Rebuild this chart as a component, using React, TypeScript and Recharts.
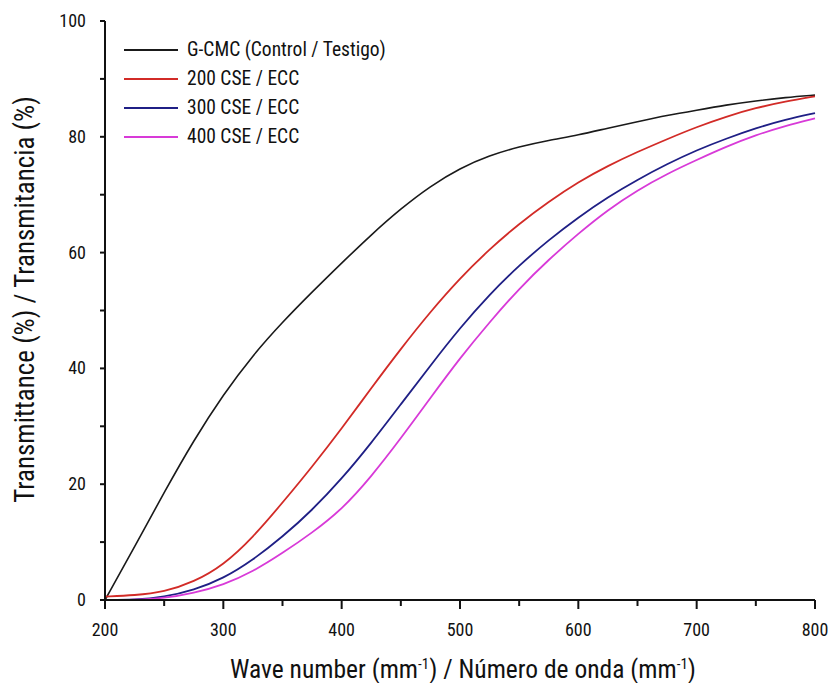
import React from 'react';
import { LineChart, Line, XAxis, YAxis } from 'recharts';

const FONT = "'Liberation Sans Narrow', 'Roboto Condensed', 'Liberation Sans', Arial, sans-serif";

const waveNumbers = [200, 225, 250, 275, 300, 325, 350, 375, 400, 425, 450, 475, 500, 525, 550, 575, 600, 625, 650, 675, 700, 725, 750, 775, 800];

const controlValues = [0, 9.2, 18.6, 27.6, 35.5, 42.3, 48, 53.2, 58.2, 63.1, 67.6, 71.5, 74.6, 76.8, 78.3, 79.4, 80.3, 81.5, 82.6, 83.7, 84.6, 85.5, 86.2, 86.8, 87.2];
const cse200Values = [0.6, 0.8, 1.4, 3.1, 6, 10.8, 16.8, 23, 29.6, 36.6, 43.4, 49.8, 55.6, 60.6, 65, 68.8, 72.2, 75, 77.4, 79.6, 81.7, 83.5, 85, 86.1, 87];
const cse300Values = [0, 0, 0.5, 1.7, 3.7, 6.9, 10.9, 15.5, 20.9, 27.1, 33.8, 40.5, 47, 52.8, 57.8, 62.2, 66.1, 69.6, 72.6, 75.3, 77.7, 79.7, 81.5, 83, 84.1];
const cse400Values = [0, 0, 0.3, 1.2, 2.6, 4.9, 8.1, 11.6, 15.6, 21.3, 27.9, 34.9, 41.8, 48, 53.8, 58.8, 63.3, 67.4, 70.8, 73.6, 76, 78.3, 80.3, 81.9, 83.2];

const xTicks = [200, 250, 300, 350, 400, 450, 500, 550, 600, 650, 700, 750, 800];
const yTicks = [0, 10, 20, 30, 40, 50, 60, 70, 80, 90, 100];

const series = [
    { key: 'control', name: 'G-CMC (Control / Testigo)', color: '#1a1a1a', width: 1.6 },
    { key: 'cse200', name: '200 CSE / ECC', color: '#d22b27', width: 1.8 },
    { key: 'cse300', name: '300 CSE / ECC', color: '#1f1f85', width: 1.8 },
    { key: 'cse400', name: '400 CSE / ECC', color: '#d83ad8', width: 1.8 },
];

const data = waveNumbers.map((w, i) => ({
    wave: w,
    control: controlValues[i],
    cse200: cse200Values[i],
    cse300: cse300Values[i],
    cse400: cse400Values[i],
}));

const XTick = (props: any) => {
    const { x, y, payload } = props;
    const major = payload.value % 100 === 0;
    return (
        <g>
            <line x1={x} y1={y} x2={x} y2={y + (major ? 9 : 6)} stroke="#111" strokeWidth={2} />
            {major && (
                <text x={x} y={y + 36} textAnchor="middle" fontSize={18} fontFamily={FONT} fill="#111">
                    {payload.value}
                </text>
            )}
        </g>
    );
};

const YTick = (props: any) => {
    const { x, y, payload } = props;
    const major = payload.value % 20 === 0;
    return (
        <g>
            <line x1={x} y1={y} x2={x - 5} y2={y} stroke="#111" strokeWidth={2} />
            {major && (
                <text x={x - 19} y={y + 6} textAnchor="end" fontSize={18} fontFamily={FONT} fill="#111">
                    {payload.value}
                </text>
            )}
        </g>
    );
};

const XTitle = (props: any) => {
    const { viewBox } = props;
    const cx = viewBox.x + viewBox.width / 2 + 3;
    const y = viewBox.y + 78;
    return (
        <text x={cx} y={y} textAnchor="middle" fontSize={25.5} fontFamily={FONT} fill="#111">
            Wave number (mm<tspan baselineShift="super" fontSize={15}>-1</tspan>) / Número de onda (mm<tspan baselineShift="super" fontSize={15}>-1</tspan>)
        </text>
    );
};

const YTitle = (props: any) => {
    const { viewBox } = props;
    const cx = 17;
    const cy = viewBox.y + viewBox.height / 2 - 11;
    return (
        <text x={cx} y={cy} transform={`rotate(-90, ${cx}, ${cy})`} textAnchor="middle" dominantBaseline="central" fontSize={27} fontFamily={FONT} fill="#111">
            Transmittance (%) / Transmitancia (%)
        </text>
    );
};

const LegendBox = () => (
    <div style={{ position: 'absolute', left: 116, top: 27, fontFamily: FONT, fontSize: 19.5, color: '#111', lineHeight: 1 }}>
        {series.map((s) => (
            <div key={s.key} style={{ display: 'flex', alignItems: 'center', height: 29 }}>
                <svg width={54} height={4} style={{ marginRight: 9 }}>
                    <line x1={0} y1={2} x2={54} y2={2} stroke={s.color} strokeWidth={2} />
                </svg>
                <span>{s.name}</span>
            </div>
        ))}
    </div>
);

export default function App() {
    return (
        <div style={{ position: 'relative', width: 828, height: 675 }}>
            <style>{'html { overflow: hidden; } body { margin-right: 0; } .recharts-surface { overflow: visible; } .recharts-wrapper { overflow: visible; }'}</style>
            <LineChart width={828} height={675} data={data} margin={{ top: 13, right: 21, left: 37, bottom: 0 }}>
                <XAxis
                    dataKey="wave"
                    type="number"
                    domain={[200, 800]}
                    ticks={xTicks}
                    tick={<XTick />}
                    tickLine={false}
                    tickSize={0}
                    tickMargin={0}
                    height={83}
                    axisLine={{ stroke: '#111', strokeWidth: 2 }}
                    label={<XTitle />}
                    interval={0}
                />
                <XAxis xAxisId="top" orientation="top" dataKey="wave" type="number" domain={[200, 800]} height={0} tick={false} tickLine={false} axisLine={{ stroke: '#111', strokeWidth: 2 }} />
                <YAxis
                    type="number"
                    domain={[0, 100]}
                    ticks={yTicks}
                    tick={<YTick />}
                    tickLine={false}
                    tickSize={0}
                    tickMargin={0}
                    width={60}
                    axisLine={{ stroke: '#111', strokeWidth: 2 }}
                    label={<YTitle />}
                    interval={0}
                />
                <YAxis yAxisId="right" orientation="right" domain={[0, 100]} width={0} tick={false} tickLine={false} axisLine={{ stroke: '#111', strokeWidth: 2 }} />
                {series.map((s) => (
                    <Line
                        key={s.key}
                        dataKey={s.key}
                        name={s.name}
                        type="basis"
                        stroke={s.color}
                        strokeWidth={s.width}
                        dot={false}
                        isAnimationActive={false}
                    />
                ))}
            </LineChart>
            <LegendBox />
        </div>
    );
}
